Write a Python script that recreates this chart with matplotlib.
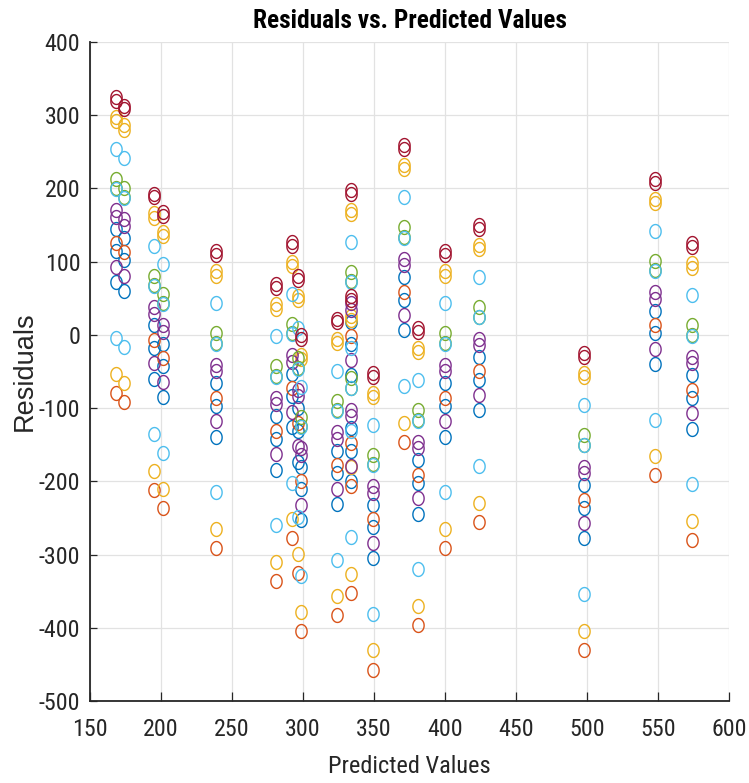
import numpy as np
import matplotlib
matplotlib.use("Agg")
import matplotlib.pyplot as plt
from matplotlib import font_manager
from matplotlib.path import Path

# ---------------- data ----------------
x_pred = [168.5, 173.7, 194.8, 201.4, 239.0, 281.2, 292.3, 296.6, 298.7, 323.9,
          333.8, 333.8, 349.0, 370.8, 380.7, 400.2, 423.7, 498.1, 547.6, 574.0]

# each list: one residual per predicted-value column above
res_blue = [
    [145, 133, 13, -12, -66, -111, -53, -100, -180, -158, 18, -127, -232, 79, -171, -66, -30, -205, 33, -55],
    [114, 102, -18, -43, -97, -142, -84, -131, -211, -189, -13, -158, -263, 48, -202, -97, -61, -236, 2, -86],
    [72, 60, -60, -85, -139, -184, -126, -173, -253, -231, -55, -200, -305, 6, -244, -139, -103, -278, -40, -128],
]
res_orange = [
    [125, 113, -7, -32, -86, -131, -73, -120, -200, -178, -2, -147, -252, 59, -191, -86, -50, -225, 13, -75],
    [-80, -92, -212, -237, -291, -336, -278, -325, -405, -383, -207, -352, -457, -146, -396, -291, -255, -430, -192, -280],
]
res_yellow = [
    [298, 286, 166, 141, 87, 42, 100, 53, -27, -5, 171, 26, -79, 232, -18, 87, 123, -52, 186, 98],
    [292, 280, 160, 135, 81, 36, 94, 47, -33, -11, 165, 20, -85, 226, -24, 81, 117, -58, 180, 92],
    [-54, -66, -186, -211, -265, -310, -252, -299, -379, -357, -181, -326, -431, -120, -370, -265, -229, -404, -166, -254],
]
res_purple = [
    [170, 158, 38, 13, -41, -86, -28, -75, -155, -133, 43, -102, -207, 104, -146, -41, -5, -180, 58, -30],
    [161, 149, 29, 4, -50, -95, -37, -84, -164, -142, 34, -111, -216, 95, -155, -50, -14, -189, 49, -39],
    [93, 81, -39, -64, -118, -163, -105, -152, -232, -210, -34, -179, -284, 27, -223, -118, -82, -257, -19, -107],
]
res_green = [
    [213, 201, 81, 56, 2, -43, 15, -32, -112, -90, 86, -59, -164, 147, -103, 2, 38, -137, 101, 13],
    [200, 188, 68, 43, -11, -56, 2, -45, -125, -103, 73, -72, -177, 134, -116, -11, 25, -150, 88, 0],
]
res_lightblue = [
    [254, 242, 122, 97, 43, -2, 56, 9, -71, -49, 127, -18, -123, 188, -62, 43, 79, -96, 142, 54],
    [199, 187, 67, 42, -12, -57, 1, -46, -126, -104, 72, -73, -178, 133, -117, -12, 24, -151, 87, -1],
    [-4, -16, -136, -161, -215, -260, -202, -249, -329, -307, -131, -276, -381, -70, -320, -215, -179, -354, -116, -204],
]
res_darkred = [
    [325, 313, 193, 168, 114, 69, 127, 80, 0, 22, 198, 53, -52, 259, 9, 114, 150, -25, 213, 125],
    [320, 308, 188, 163, 109, 64, 122, 75, -5, 17, 193, 48, -57, 254, 4, 109, 145, -30, 208, 120],
]

x_ticks = [150, 200, 250, 300, 350, 400, 450, 500, 550, 600]
y_ticks = [-500, -400, -300, -200, -100, 0, 100, 200, 300, 400]

title_text = "Residuals vs. Predicted Values"
xlabel_text = "Predicted Values"
ylabel_text = "Residuals"

# ---------------- style ----------------
names = {f.name for f in font_manager.fontManager.ttflist}
narrow = None
for cand in ["Roboto Condensed", "Liberation Sans Narrow", "Arial Narrow"]:
    if cand in names:
        narrow = cand
        break
if narrow is not None:
    tick_fs, title_fs, xlab_fs = 17.3, 18.3, 17.6
else:
    narrow = "Liberation Sans"
    tick_fs, title_fs, xlab_fs = 15.0, 16.5, 16.5
regular = "Liberation Sans"

colors = {
    "blue": "#0072BD", "orange": "#D95319", "yellow": "#EDB120",
    "purple": "#7E2F8E", "green": "#77AC30", "lightblue": "#4DBEEE",
    "darkred": "#A2142F",
}
series = [
    ("blue", res_blue), ("orange", res_orange), ("yellow", res_yellow),
    ("purple", res_purple), ("green", res_green), ("lightblue", res_lightblue),
    ("darkred", res_darkred),
]

# slightly narrow ellipse marker (reference is horizontally compressed)
th = np.linspace(0, 2 * np.pi, 73)
ell = Path(np.column_stack([0.81 * np.cos(th), np.sin(th)]), closed=True)

fig = plt.figure(figsize=(7.49, 7.83), dpi=100)
ax = fig.add_axes([90 / 749, 1 - 701 / 783, (729 - 90) / 749, (701 - 42) / 783])

for cname, rows in series:
    for row in rows:
        ax.plot(x_pred, row, linestyle="none", marker=ell, markersize=10,
                markerfacecolor="none", markeredgecolor=colors[cname],
                markeredgewidth=1.0, zorder=3)

ax.set_xlim(150, 600)
ax.set_ylim(-500, 400)
ax.set_xticks(x_ticks)
ax.set_yticks(y_ticks)
ax.set_xticklabels([str(v) for v in x_ticks])
ax.set_yticklabels([str(v) for v in y_ticks])

ax.grid(True, color="#e2e2e2", linewidth=0.9, zorder=0)
ax.set_axisbelow(True)
for s in ["top", "right"]:
    ax.spines[s].set_visible(False)
for s in ["left", "bottom"]:
    ax.spines[s].set_color("#262626")
    ax.spines[s].set_linewidth(1.3)

ax.tick_params(axis="x", direction="in", length=6.5, width=0.9, color="#262626",
               pad=12, labelsize=tick_fs, labelcolor="#262626")
ax.tick_params(axis="y", direction="in", length=5, width=0.9, color="#262626",
               pad=7, labelsize=tick_fs, labelcolor="#262626")
for lab in ax.get_xticklabels() + ax.get_yticklabels():
    lab.set_fontfamily(narrow)

ax.set_title(title_text, fontfamily=narrow, fontweight="bold", fontsize=title_fs,
             pad=10, color="black")
ax.set_xlabel(xlabel_text, fontfamily=narrow, fontsize=xlab_fs, color="#262626")
ax.xaxis.set_label_coords(0.5, (701 - 755) / 659)
ax.set_ylabel(ylabel_text, fontfamily=regular, fontsize=19.5, color="#262626")
ax.yaxis.set_label_coords((37.5 - 90) / 639, 0.5)

fig.savefig("out.png", dpi=100)
